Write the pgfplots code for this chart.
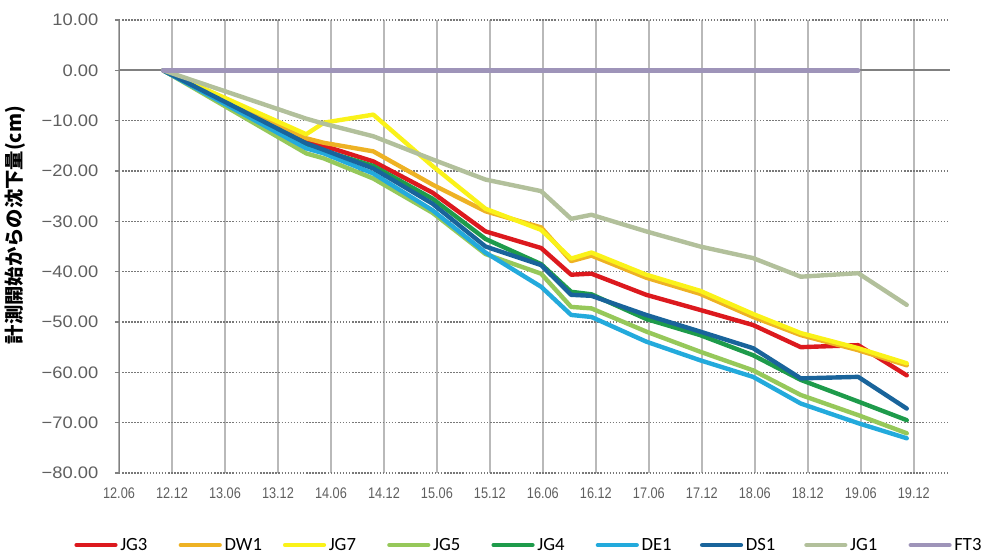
\documentclass[border=0pt]{standalone}
\usepackage{fontspec}
\usepackage{pgfplots}
\usepackage{pgfplotstable}
\pgfplotsset{compat=1.18}
\setmainfont{Liberation Sans}
\newfontfamily\narrow[FakeStretch=0.83]{Liberation Sans}
\newfontfamily\wide[FakeStretch=1.1]{Liberation Sans}
\newfontfamily\legendfont{Carlito}
\newfontfamily\cjk{Noto Sans CJK JP}

\definecolor{cJGthree}{RGB}{220,25,30}
\definecolor{cDW}{RGB}{238,178,36}
\definecolor{cJGseven}{RGB}{250,242,25}
\definecolor{cJGfive}{RGB}{150,200,90}
\definecolor{cJGfour}{RGB}{30,155,75}
\definecolor{cDE}{RGB}{35,170,220}
\definecolor{cDS}{RGB}{25,100,155}
\definecolor{cJGone}{RGB}{178,192,155}
\definecolor{cFT}{RGB}{158,148,185}
\definecolor{axisgray}{RGB}{128,128,128}
\definecolor{vgrid}{RGB}{185,185,185}
\definecolor{hgrid}{RGB}{120,120,120}
\definecolor{labgray}{RGB}{95,95,95}

% months since 2012.06
\pgfplotstableread{
x     JG3    DW1    JG7    JG5    JG4    DE1    DS1    JG1
5      0      0      0      0      0      0      0      0
21.2  -14.0  -13.5  -12.7  -16.5  -15.0  -15.5  -14.5  -9.6
23.2  -15.0  -14.4  -10.4  -17.5  -16.0  -16.5  -15.8  -10.6
28.8  -18.1  -16.1  -8.8   -21.5  -19.0  -20.5  -19.5  -13.1
35.5  -24.3  -22.7  -19.0  -28.3  -25.5  -27.8  -26.5  -17.7
41.5  -32.0  -28.0  -27.5  -36.5  -33.5  -36.2  -35.0  -21.7
47.8  -35.3  -31.2  -31.7  -40.4  -38.5  -43.0  -38.7  -24.0
51.2  -40.6  -37.9  -37.4  -47.0  -44.0  -48.6  -44.6  -29.5
53.5  -40.4  -36.8  -36.2  -47.3  -44.5  -49.0  -44.8  -28.7
59.7  -44.6  -41.2  -40.6  -51.9  -49.4  -53.9  -48.6  -32.0
65.8  -47.6  -44.4  -43.8  -55.9  -52.6  -57.6  -51.9  -35.0
71.8  -50.6  -49.0  -48.4  -59.6  -56.6  -60.9  -55.2  -37.3
77.2  -55.0  -52.6  -52.2  -64.5  -61.5  -66.2  -61.2  -41.0
83.7  -54.6  -55.6  -55.2  -68.5  -65.8  -70.1  -60.9  -40.3
89.2  -60.6  -58.6  -58.2  -72.1  -69.5  -73.1  -67.2  -46.6
}\settlement

\begin{document}
\begin{tikzpicture}
\useasboundingbox (-89.25pt,-62.25pt) rectangle (649.5pt,354.75pt);
\begin{axis}[
  name=ax, at={(0,0)}, anchor=south west,
  scale only axis, width=623.25pt, height=339.75pt,
  xmin=0, xmax=94.1, ymin=-80, ymax=10,
  axis line style={draw=none},
  xtick={0,6,...,90},
  xticklabels={12.06,12.12,13.06,13.12,14.06,14.12,15.06,15.12,16.06,16.12,17.06,17.12,18.06,18.12,19.06,19.12},
  ytick={-80,-70,...,10},
  yticklabels={−80.00,−70.00,−60.00,−50.00,−40.00,−30.00,−20.00,−10.00,0.00,10.00},
  xtick pos=bottom, ytick pos=left,
  tick align=outside, major tick length=3pt,
  xtick style={draw=none},
  ytick style={color=axisgray, line width=1.2pt},
  xmajorgrids, ymajorgrids,
  x grid style={color=vgrid, line width=1.5pt},
  y grid style={color=hgrid, line width=1.1pt, dash pattern=on 1.1pt off 1.2pt},
  yticklabel style={font=\wide\fontsize{12.5}{14}\selectfont, text=labgray, xshift=-9pt},
  xticklabel style={font=\narrow\fontsize{11.5}{13}\selectfont, text=labgray, yshift=-4.5pt},
  ylabel={\cjk\bfseries 計測開始からの沈下量(cm)},
  ylabel style={at={(axis description cs:-0.125,0.547)}, anchor=center, font=\fontsize{14.5}{16}\selectfont},
  legend columns=9,
  legend style={at={(axis description cs:-0.054,-0.159)}, anchor=west, draw=none, fill=none,
    inner sep=0pt, font=\legendfont\fontsize{14}{16}\selectfont,
    /tikz/every odd column/.append style={column sep=0pt}},
  legend image code/.code={\draw[#1, line width=3.4pt, line cap=round] (0pt,0pt) -- (29pt,0pt);},
  every axis plot/.append style={line width=3.3pt, line join=round, line cap=round},
]
\draw[axisgray, line width=1.5pt] (axis cs:0,0) -- (axis cs:94.1,0);
\draw[axisgray, line width=1.5pt] (axis cs:0,-80) -- (axis cs:0,10);
\addplot[cJGthree] table[x=x, y=JG3] {\settlement};
\addlegendentry{\makebox[41.8pt][l]{JG3}}
\addplot[cDW] table[x=x, y=DW1] {\settlement};
\addlegendentry{\makebox[41.8pt][l]{DW1}}
\addplot[cJGseven] table[x=x, y=JG7] {\settlement};
\addlegendentry{\makebox[41.8pt][l]{JG7}}
\addplot[cJGfive] table[x=x, y=JG5] {\settlement};
\addlegendentry{\makebox[41.8pt][l]{JG5}}
\addplot[cJGfour] table[x=x, y=JG4] {\settlement};
\addlegendentry{\makebox[41.8pt][l]{JG4}}
\addplot[cDE] table[x=x, y=DE1] {\settlement};
\addlegendentry{\makebox[41.8pt][l]{DE1}}
\addplot[cDS] table[x=x, y=DS1] {\settlement};
\addlegendentry{\makebox[41.8pt][l]{DS1}}
\addplot[cJGone] table[x=x, y=JG1] {\settlement};
\addlegendentry{\makebox[41.8pt][l]{JG1}}
\addplot[cFT] coordinates {(5,0) (83.7,0)};
\addlegendentry{FT3}
\end{axis}
\end{tikzpicture}
\end{document}
